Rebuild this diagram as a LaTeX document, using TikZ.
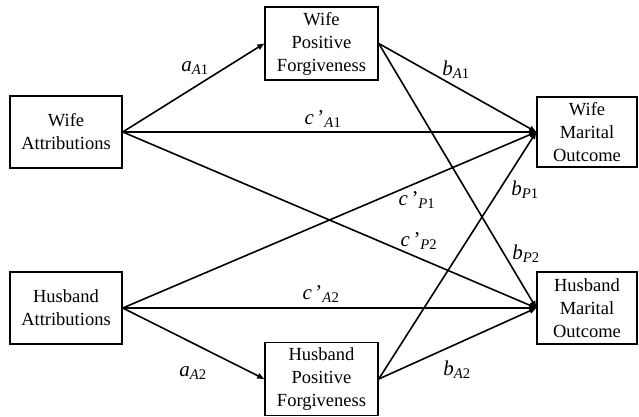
\documentclass[tikz,border=0pt]{standalone}
\usepackage{fontspec}
\setmainfont{Liberation Serif}
\usetikzlibrary{arrows.meta, positioning}
\newcommand{\coef}[3]{\textit{#1}\textsubscript{\textit{#2}#3}}
\newcommand{\coefp}[3]{\textit{#1}\,’\textsubscript{\textit{#2}#3}}

\begin{document}
\begin{tikzpicture}[x=1pt, y=1pt, >={Triangle[length=7pt, width=5.5pt]},
  box/.style={draw, line width=1.5pt, align=center, inner sep=0pt,
    minimum width=112pt, minimum height=72pt, font=\fontsize{18.5}{23}\selectfont},
  arr/.style={->, line width=1.6pt},
  lbl/.style={inner sep=1pt, font=\fontsize{21}{24}\selectfont}]
  \useasboundingbox (0,0) rectangle (639,417);
  % Kästen
  \node[box] (wattr) at (66,285) {Wife\\Attributions};
  \node[box] (hattr) at (66,109) {Husband\\Attributions};
  \node[box, minimum width=113pt, minimum height=73pt] (wforg) at (321.5,373.5) {Wife\\Positive\\Forgiveness};
  \node[box, minimum width=113pt, minimum height=73pt] (hforg) at (321.5,38) {Husband\\Positive\\Forgiveness};
  \node[box, minimum width=100pt, minimum height=70pt] (wout) at (587,285) {Wife\\Marital\\Outcome};
  \node[box, minimum width=100pt, minimum height=72pt] (hout) at (587,109) {Husband\\Marital\\Outcome};
  % Pfade
  \draw[arr] (wattr.east) -- (wforg.west);
  \draw[arr] (wattr.east) -- (wout.west);
  \draw[arr] (wattr.east) -- (hout.west);
  \draw[arr] (hattr.east) -- (wout.west);
  \draw[arr] (hattr.east) -- (hout.west);
  \draw[arr] (hattr.east) -- (hforg.west);
  \draw[arr] (wforg.east) -- (wout.west);
  \draw[arr] (wforg.east) -- (hout.west);
  \draw[arr] (hforg.east) -- (wout.west);
  \draw[arr] (hforg.east) -- (hout.west);
  % Koeffizienten
  \node[lbl] (aA1) at (195,349) {\coef{a}{A}{1}};
  \node[lbl] (cA1) at (323,298) {\coefp{c}{A}{1}};
  \node[lbl] (bA1) at (456,347) {\coef{b}{A}{1}};
  \node[lbl] (cP1) at (417,217) {\coefp{c}{P}{1}};
  \node[lbl] (bP1) at (525,227) {\coef{b}{P}{1}};
  \node[lbl] (cP2) at (419,176) {\coefp{c}{P}{2}};
  \node[lbl] (bP2) at (526,163) {\coef{b}{P}{2}};
  \node[lbl] (cA2) at (321,123) {\coefp{c}{A}{2}};
  \node[lbl] (aA2) at (193,44) {\coef{a}{A}{2}};
  \node[lbl] (bA2) at (457,47) {\coef{b}{A}{2}};
\end{tikzpicture}
\end{document}
